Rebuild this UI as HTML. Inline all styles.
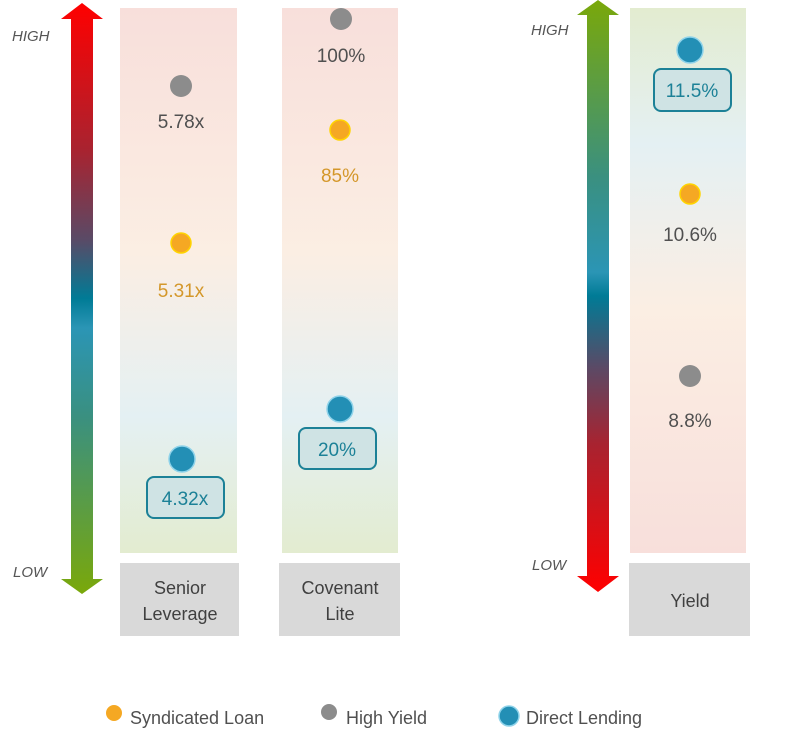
<!DOCTYPE html>
<html><head><meta charset="utf-8"><style>
html,body{margin:0;padding:0;background:#fff;}
svg{display:block;font-family:"Liberation Sans",sans-serif;}
</style></head><body>
<svg width="800" height="744" viewBox="0 0 800 744">
<defs>
<linearGradient id="la" x1="0" y1="0" x2="0" y2="1">
<stop offset="0" stop-color="#ff0000"/><stop offset="0.25" stop-color="#a82330"/><stop offset="0.4" stop-color="#5a4a66"/><stop offset="0.5" stop-color="#007b96"/><stop offset="0.55" stop-color="#2b95b5"/><stop offset="0.7" stop-color="#3a9080"/><stop offset="1" stop-color="#7aa80a"/>
</linearGradient>
<linearGradient id="ra" x1="0" y1="0" x2="0" y2="1">
<stop offset="0" stop-color="#7aa80a"/><stop offset="0.3" stop-color="#3a9080"/><stop offset="0.46" stop-color="#2b95b5"/><stop offset="0.5" stop-color="#007b96"/><stop offset="0.62" stop-color="#5a4a66"/><stop offset="0.75" stop-color="#a82330"/><stop offset="1" stop-color="#ff0000"/>
</linearGradient>
<linearGradient id="lc" x1="0" y1="0" x2="0" y2="1">
<stop offset="0" stop-color="#f8dfdb"/><stop offset="0.45" stop-color="#fbeee3"/><stop offset="0.75" stop-color="#e4f0f3"/><stop offset="1" stop-color="#e3ecd0"/>
</linearGradient>
<linearGradient id="rc" x1="0" y1="0" x2="0" y2="1">
<stop offset="0" stop-color="#e3ecd0"/><stop offset="0.25" stop-color="#e4f0f3"/><stop offset="0.55" stop-color="#fbeee3"/><stop offset="1" stop-color="#f8dfdb"/>
</linearGradient>
</defs>
<!-- left arrow -->
<polygon points="82,3 103,19 93,19 93,579 103,579 82,594 61,579 71,579 71,19 61,19" fill="url(#la)"/>
<!-- right arrow -->
<polygon points="598,0 619,15 609,15 609,576 619,576 598,592 577,576 587,576 587,15 577,15" fill="url(#ra)"/>
<g font-style="italic" font-size="15" fill="#555">
<text x="12" y="41">HIGH</text><text x="13" y="577">LOW</text>
<text x="531" y="35">HIGH</text><text x="532" y="570">LOW</text>
</g>
<rect x="120" y="8" width="117" height="545" fill="url(#lc)"/>
<rect x="282" y="8" width="116" height="545" fill="url(#lc)"/>
<rect x="630" y="8" width="116" height="545" fill="url(#rc)"/>
<rect x="120" y="563" width="119" height="73" fill="#d9d9d9"/>
<rect x="279" y="563" width="121" height="73" fill="#d9d9d9"/>
<rect x="629" y="563" width="121" height="73" fill="#d9d9d9"/>
<g font-size="18" fill="#404040" text-anchor="middle">
<text x="180" y="594">Senior</text><text x="180" y="620">Leverage</text>
<text x="340" y="594">Covenant</text><text x="340" y="620">Lite</text>
<text x="690" y="607">Yield</text>
</g>
<!-- dots -->
<g fill="#8c8c8c"><circle cx="181" cy="86" r="11"/><circle cx="341" cy="19" r="11"/><circle cx="690" cy="376" r="11"/></g>
<g fill="#f5a823" stroke="#ffd400" stroke-width="1.5"><circle cx="181" cy="243" r="10"/><circle cx="340" cy="130" r="10"/><circle cx="690" cy="194" r="10"/></g>
<g fill="#238fb5" stroke="#8fd3ea" stroke-width="1.5"><circle cx="182" cy="459" r="13"/><circle cx="340" cy="409" r="13"/><circle cx="690" cy="50" r="13"/></g>
<g fill="#cfe3e4" stroke="#1c8197" stroke-width="2"><rect x="147" y="477" width="77" height="41" rx="7"/><rect x="299" y="428" width="77" height="41" rx="7"/><rect x="654" y="69" width="77" height="42" rx="7"/></g>
<g font-size="19" text-anchor="middle">
<text x="181" y="128" fill="#505050">5.78x</text>
<text x="181" y="297" fill="#d4972a">5.31x</text>
<text x="341" y="62" fill="#505050">100%</text>
<text x="340" y="182" fill="#d4972a">85%</text>
<text x="690" y="241" fill="#505050">10.6%</text>
<text x="690" y="427" fill="#505050">8.8%</text>
<text x="185" y="505" fill="#1c8197">4.32x</text>
<text x="337" y="456" fill="#1c8197">20%</text>
<text x="692" y="97" fill="#1c8197">11.5%</text>
</g>
<circle cx="114" cy="713" r="8" fill="#f5a823"/>
<circle cx="329" cy="712" r="8" fill="#8c8c8c"/>
<circle cx="509" cy="716" r="10" fill="#238fb5" stroke="#8fd3ea" stroke-width="1.5"/>
<g font-size="18" fill="#505050">
<text x="130" y="724">Syndicated Loan</text>
<text x="346" y="724">High Yield</text>
<text x="526" y="724">Direct Lending</text>
</g>
</svg>
</body></html>
